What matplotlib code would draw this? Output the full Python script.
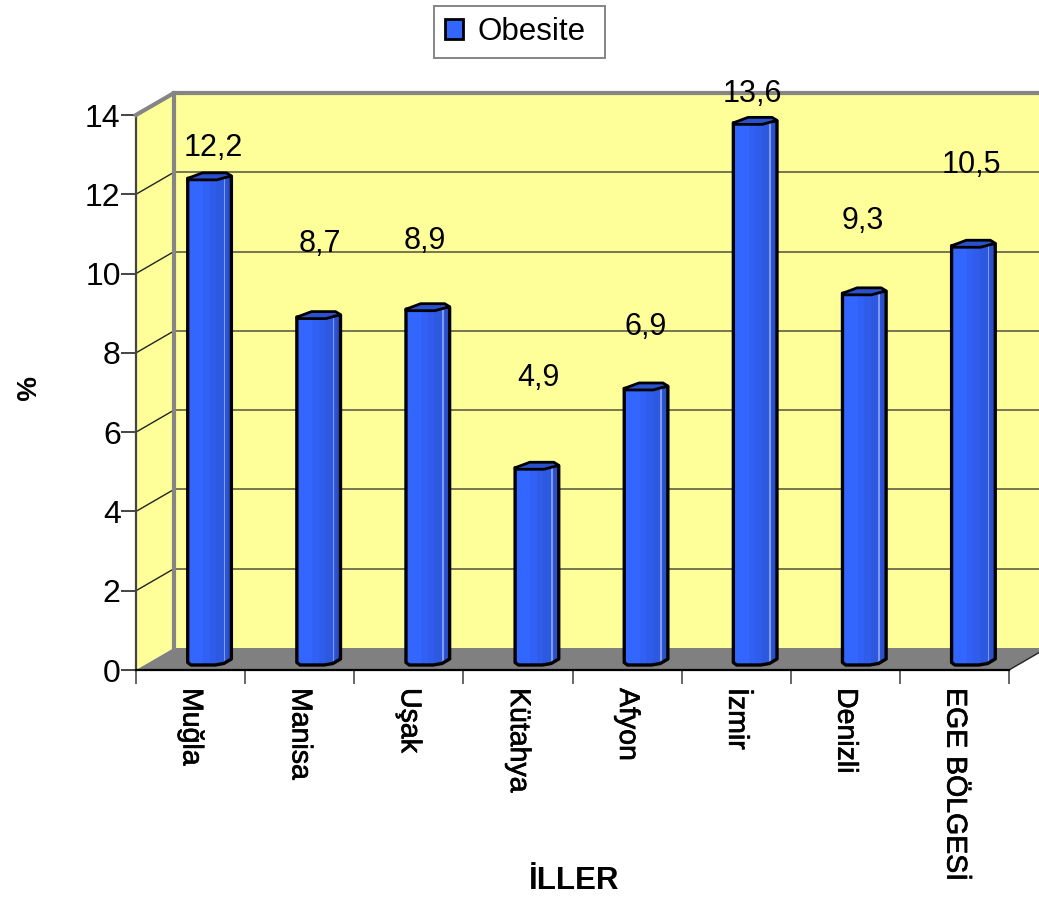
import matplotlib
matplotlib.use('Agg')
import matplotlib.pyplot as plt
from matplotlib.patches import Patch, Polygon
import matplotlib.patheffects as pe
import numpy as np

cities = ["Muğla", "Manisa", "Uşak", "Kütahya", "Afyon", "İzmir", "Denizli", "EGE BÖLGESİ"]
obesity = [12.2, 8.7, 8.9, 4.9, 6.9, 13.6, 9.3, 10.5]
y_ticks = [0, 2, 4, 6, 8, 10, 12, 14]

# how far the value labels float above each column, in axis units
label_lift = [0.69, 1.76, 1.64, 2.19, 1.48, 0.65, 1.76, 1.96]
label_shift = [0.03, 0.01, -0.03, 0.013, -0.007, -0.025, -0.013, -0.02]

WALL = '#FFFF99'
FLOOR = '#808080'
EDGE = '#858585'
BLUE = '#3366FF'
CAP = '#2A52CC'

# depth of the box in data units
DX = 0.348
DY = 0.555
HALF = 0.2

plt.rcParams['font.family'] = ['Liberation Sans', 'DejaVu Sans']
plt.rcParams['font.size'] = 21

fig = plt.figure(figsize=(10.39, 8.97), dpi=100)
ax = fig.add_axes([136 / 1039, 1 - 670 / 897, 873 / 1039, 555 / 897])
n = len(cities)
ax.set_xlim(0, n)
ax.set_ylim(0, 14)
heavy = [pe.withStroke(linewidth=0.5, foreground='black')]


def add_poly(points, **kwargs):
    kwargs.setdefault('clip_on', False)
    patch = Polygon(points, closed=True, **kwargs)
    ax.add_patch(patch)
    return patch


# walls and floor of the 3D box
add_poly([(DX, DY), (n + DX, DY), (n + DX, 14 + DY), (DX, 14 + DY)], fc=WALL, ec='none', zorder=1)
add_poly([(0, 0), (DX, DY), (DX, 14 + DY), (0, 14)], fc=WALL, ec='none', zorder=1)
add_poly([(0, 0), (n, 0), (n + DX, DY), (DX, DY)], fc=FLOOR, ec='none', zorder=2)

for v in y_ticks[1:-1]:
    ax.plot([DX, n + DX], [v + DY, v + DY], color='#6b6b4d', lw=1.3, zorder=2, clip_on=False)
    ax.plot([0, DX], [v, v + DY], color='#222222', lw=1.0, zorder=2, clip_on=False)

ax.plot([0, DX, n + DX], [14, 14 + DY, 14 + DY], color=EDGE, lw=3, zorder=3, clip_on=False)
ax.plot([DX, DX], [DY, 14 + DY], color=EDGE, lw=3, zorder=3, clip_on=False)
ax.plot([n, n + DX], [0, DY], color='#222222', lw=1.0, zorder=2, clip_on=False)

# cylinders stand halfway into the box
strip_edges = np.array([-1.0, -0.3, 0.0, 0.3, 0.65, 0.72, 0.78, 1.0])
strip_colors = [BLUE, '#3160F5', '#2F5CEA', '#2D58E0', '#7F9BF2', '#2C55D8', '#2A50CC']
px_y = 14 / 555

for i, value in enumerate(obesity):
    cx = i + 0.5 + DX / 2
    base = DY / 2
    top = base + value
    body = [(cx - HALF, top - 3 * px_y), (cx + HALF, top - 1 * px_y), (cx + HALF, base + 0 * px_y),
            (cx + 0.13, base - 4.5 * px_y), (cx + 0.05, base - 6 * px_y), (cx - 0.17, base - 6 * px_y),
            (cx - HALF, base - 3.5 * px_y)]
    clip = add_poly(body, fc='none', ec='none', zorder=4)
    for k, col in enumerate(strip_colors):
        x0, x1 = cx + strip_edges[k] * HALF, cx + strip_edges[k + 1] * HALF
        bars = ax.bar(x0, value + 8 * px_y, width=x1 - x0, bottom=base - 7 * px_y, align='edge',
                      color=col, lw=0, zorder=5)
        bars[0].set_clip_path(clip)
    add_poly(body, fc='none', ec='black', lw=2.4, zorder=6, joinstyle='round')
    cap = [(cx - HALF, top - 3 * px_y), (cx - 0.065, top + 2.5 * px_y), (cx + 0.155, top + 2.5 * px_y),
           (cx + HALF, top - 0.5 * px_y), (cx + 0.065, top - 4.5 * px_y), (cx - HALF, top - 4.5 * px_y)]
    add_poly(cap, fc=CAP, ec='black', lw=2.0, zorder=7, joinstyle='round')
    ax.text(cx + label_shift[i], top + label_lift[i], str(value).replace('.', ','), ha='center', va='center',
            fontsize=22, color='black', zorder=8, clip_on=False)

ax.set_yticks(y_ticks)
ax.tick_params(axis='y', length=11, width=1.4, color='#444444', pad=0, labelsize=23)
ax.set_xticks(range(n + 1))
ax.set_xticklabels([])
ax.tick_params(axis='x', which='major', length=10, width=1.4, color='#666666')
ax.set_xticks(np.arange(n) + 0.5, minor=True)
ax.set_xticklabels(cities, minor=True, rotation=270, ha='center', va='top', fontsize=20.5, path_effects=heavy)
ax.tick_params(axis='x', which='minor', length=0, pad=13)

for side in ('top', 'right'):
    ax.spines[side].set_visible(False)
ax.spines['left'].set_linewidth(1.6)
ax.spines['left'].set_color('#444444')
ax.spines['bottom'].set_linewidth(1.6)
ax.spines['bottom'].set_zorder(3)
ax.patch.set_visible(False)

fig.text(22 / 1039, 1 - 388 / 897, '%', rotation=270, ha='center', va='center', fontsize=20, fontweight='bold')
fig.text(574 / 1039, 1 - 881 / 897, 'İLLER', ha='center', va='center', fontsize=22.5, fontweight='bold')

handle = Patch(fc=BLUE, ec='black', lw=2)
leg = fig.legend([handle], ['Obesite'], loc='center', mode='expand',
                 bbox_to_anchor=(434 / 1039, 1 - 59 / 897, 171 / 1039, 54 / 897), fontsize=22.5,
                 fancybox=False, framealpha=1, edgecolor=EDGE, handlelength=0.58, handleheight=0.58,
                 handletextpad=0.45, borderpad=0.36, borderaxespad=0)
leg.get_frame().set_linewidth(1.4)

fig.savefig('out.png', dpi=100)
